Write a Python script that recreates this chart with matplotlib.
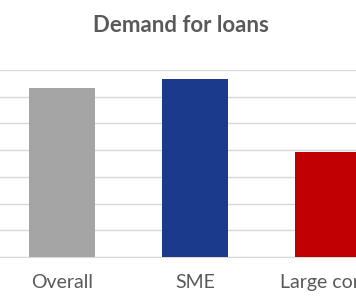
import matplotlib.pyplot as plt

categories = ['Overall', 'SME', 'Large corp.']
values = [63.3, 66.7, 39.3]
colors = ['#A5A5A5', '#1B3A8C', '#C00000']

plt.rcParams['font.family'] = ['Lato', 'DejaVu Sans']

fig = plt.figure(figsize=(3.56, 3.03), dpi=100)
# axes run past the right edge so the third category gets cut off, like the source
ax = fig.add_axes([-4.5 / 356, 46 / 303, 399 / 356, 187 / 303])

ax.bar(range(len(categories)), values, width=0.5, color=colors, zorder=3)
ax.set_xlim(-0.5, 2.5)
ax.set_ylim(0, 70)
ax.set_yticks(range(0, 71, 10))
ax.yaxis.grid(True, color='#D9D9D9', linewidth=1)
ax.tick_params(axis='y', left=False, labelleft=False)
ax.set_xticks(range(len(categories)))
ax.set_xticklabels(categories, fontsize=14, color='#595959')
ax.tick_params(axis='x', length=0, pad=12)
for side in ['top', 'right', 'left']:
    ax.spines[side].set_visible(False)
ax.spines['bottom'].set_color('#D9D9D9')

fig.text(181 / 356, 1 - 25 / 303, 'Demand for loans', ha='center', va='center',
         fontsize=16, fontweight='bold', color='#595959')

fig.savefig('out.png', dpi=100)
